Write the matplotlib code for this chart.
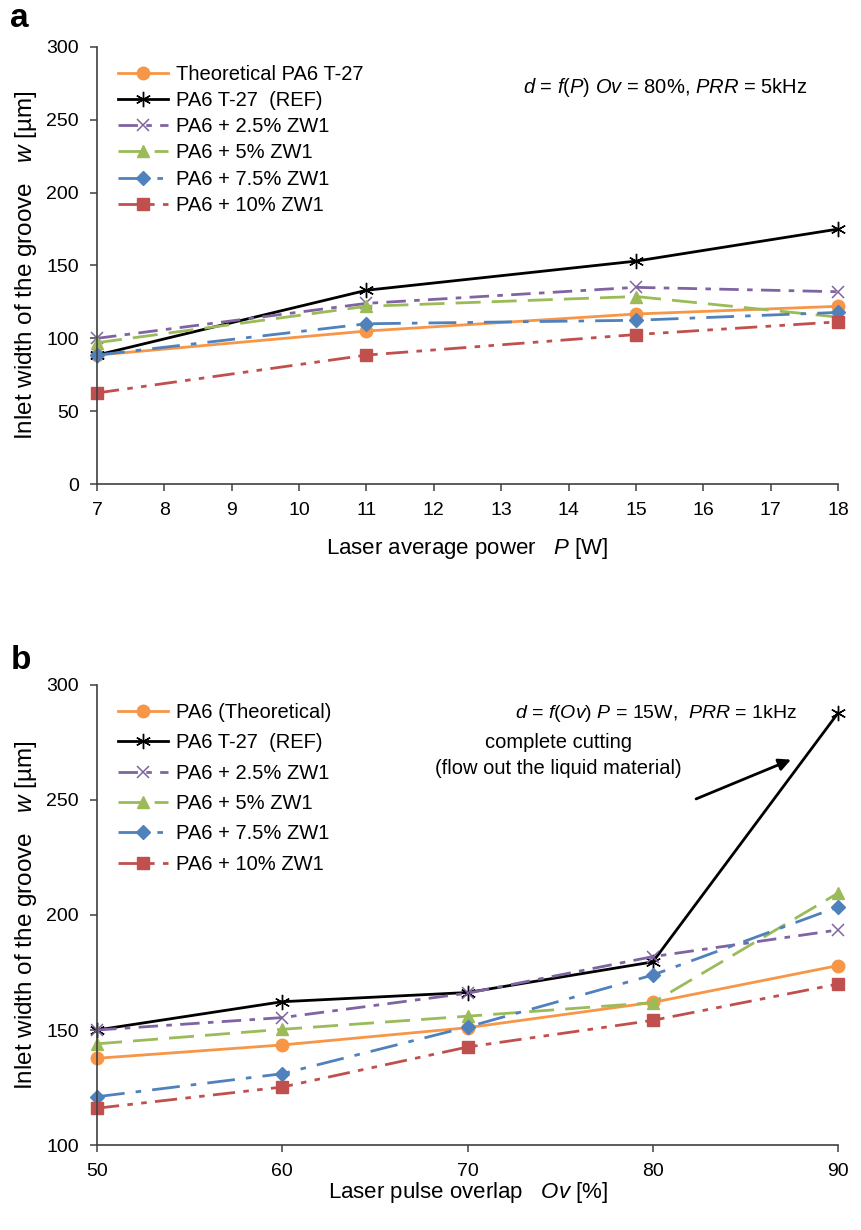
import numpy as np
import matplotlib.pyplot as plt

plt.rcParams['font.family'] = ['Liberation Sans', 'DejaVu Sans']
plt.rcParams['mathtext.fontset'] = 'custom'
plt.rcParams['mathtext.rm'] = 'Liberation Sans'
plt.rcParams['mathtext.it'] = 'Liberation Sans:italic'

# (a) groove width vs laser average power
power = [7, 11, 15, 18]
a_theo = [88.5, 105, 116.7, 122]
a_ref = [88.5, 133, 153, 175]
a_25 = [100, 124, 135, 132]
a_5 = [97, 122, 128.7, 114.6]
a_75 = [88.5, 110, 112.4, 117.8]
a_10 = [62.5, 88.5, 102.6, 111.3]

# (b) groove width vs pulse overlap
overlap = [50, 60, 70, 80, 90]
b_theo = [137.7, 143.5, 151, 162, 178]
b_ref = [150, 162.3, 166.3, 179.6, 287.8]
b_25 = [150, 155.4, 166, 181.9, 193.5]
b_5 = [144, 150.3, 156, 161.9, 209.5]
b_75 = [121, 131, 151.3, 173.9, 203.5]
b_10 = [116, 125.2, 142.6, 154.2, 170]

names_a = ['Theoretical PA6 T-27', 'PA6 T-27  (REF)', 'PA6 + 2.5% ZW1',
           'PA6 + 5% ZW1', 'PA6 + 7.5% ZW1', 'PA6 + 10% ZW1']
names_b = ['PA6 (Theoretical)', 'PA6 T-27  (REF)', 'PA6 + 2.5% ZW1',
           'PA6 + 5% ZW1', 'PA6 + 7.5% ZW1', 'PA6 + 10% ZW1']

styles = [
    dict(color='#F79646', ls='-', marker='o', ms=9),
    dict(color='black', ls='-', marker=(6, 2, 0), ms=11, mew=1.0),
    dict(color='#8064A2', ls=(0, (7, 3, 2, 3)), marker='x', ms=9, mew=1.1),
    dict(color='#9BBB59', ls=(0, (9, 4)), marker='^', ms=9),
    dict(color='#4F81BD', ls=(0, (10, 4, 2, 4)), marker='D', ms=7),
    dict(color='#C0504D', ls=(0, (8, 3, 2, 3, 2, 3)), marker='s', ms=8),
]

fig = plt.figure(figsize=(8.61, 12.30), dpi=100)
ax1 = fig.add_axes([0.1127, 0.6065, 0.8606, 0.3553])
ax2 = fig.add_axes([0.1127, 0.0691, 0.8606, 0.374])


def style_axes(ax):
    for s in ['top', 'right']:
        ax.spines[s].set_visible(False)
    for s in ['left', 'bottom']:
        ax.spines[s].set_color('#404040')
        ax.spines[s].set_linewidth(1.2)
    ax.tick_params(direction='out', length=5, width=1.1, color='#404040',
                   labelsize=14, pad=8)
    ax.set_ylabel(r'Inlet width of the groove   $w$ [µm]', fontsize=17.5, labelpad=5)


for series, name, st in zip([a_theo, a_ref, a_25, a_5, a_75, a_10], names_a, styles):
    ax1.plot(power, series, lw=2, label=name, clip_on=False, **st)
ax1.set_xlim(7, 18)
ax1.set_ylim(0, 300)
ax1.set_xticks(np.arange(7, 19, 1))
ax1.set_yticks(np.arange(0, 301, 50))
style_axes(ax1)
ax1.set_xlabel(r'Laser average power   $P$ [W]', fontsize=16, labelpad=12)
ax1.legend(loc='upper left', bbox_to_anchor=(0.0175, 0.978), frameon=False, fontsize=14.5,
           handlelength=2.5, handletextpad=0.4, labelspacing=0.36, borderaxespad=0)
ax1.text(13.32, 272, r'$d$ = $f(P)$ $Ov$ = 80%, $PRR$ = 5kHz', fontsize=14.5,
         va='center', ha='left')

for series, name, st in zip([b_theo, b_ref, b_25, b_5, b_75, b_10], names_b, styles):
    ax2.plot(overlap, series, lw=2, label=name, clip_on=False, **st)
ax2.set_xlim(50, 90)
ax2.set_ylim(100, 300)
ax2.set_xticks(np.arange(50, 91, 10))
ax2.set_yticks(np.arange(100, 301, 50))
style_axes(ax2)
ax2.set_xlabel(r'Laser pulse overlap   $Ov$ [%]', fontsize=16, labelpad=0)
ax2.legend(loc='upper left', bbox_to_anchor=(0.0175, 0.978), frameon=False, fontsize=14.5,
           handlelength=2.5, handletextpad=0.4, labelspacing=0.56, borderaxespad=0)
ax2.text(87.8, 287.8, r'$d$ = $f(Ov)$ $P$ = 15W,  $PRR$ = 1kHz', fontsize=14,
         va='center', ha='right')
ax2.text(74.9, 269.5, 'complete cutting\n(flow out the liquid material)', fontsize=14.5,
         ha='center', va='center', linespacing=1.45)
ax2.annotate('', xy=(87.6, 268), xytext=(82.2, 250),
             arrowprops=dict(arrowstyle='-|>', color='black', lw=2, mutation_scale=18))

fig.text(0.012, 0.985, 'a', fontsize=24, fontweight='bold', va='center')
fig.text(0.012, 0.463, 'b', fontsize=24, fontweight='bold', va='center')

fig.savefig('out.png', dpi=100)
